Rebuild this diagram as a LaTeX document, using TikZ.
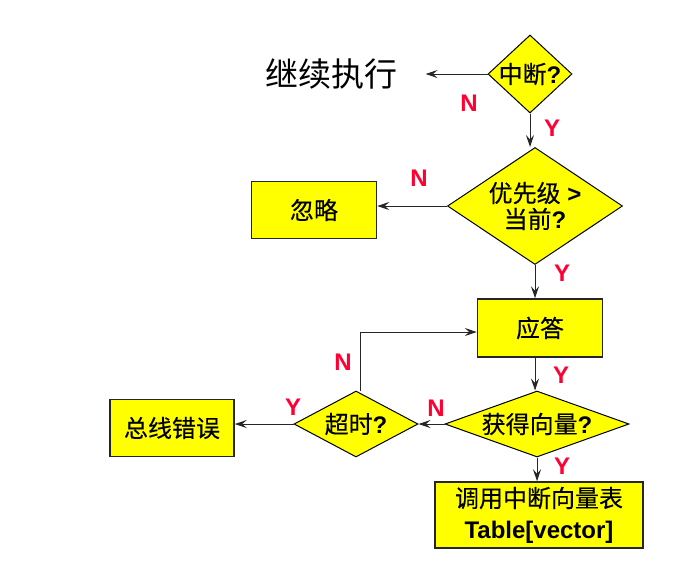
\documentclass[tikz,border=0pt]{standalone}
\usepackage{fontspec}
\setmainfont{Liberation Sans}
\newfontfamily\zh{Noto Sans CJK SC}[FakeBold=0.3]
\newfontfamily\zhlight{Noto Sans CJK SC}
\usetikzlibrary{shapes.geometric}
\usetikzlibrary{arrows.meta}
\definecolor{boxyellow}{RGB}{255,255,0}
\definecolor{answerred}{RGB}{255,0,51}

\begin{document}
\begin{tikzpicture}[x=1pt, y=1pt, node distance=100pt, auto, >={Stealth[length=12pt, width=8pt, inset=4.5pt]}]
    \tikzstyle{process} = [rectangle, minimum width=125pt, minimum height=57pt, text centered, draw=black!85, line width=1.5pt, fill=boxyellow, font=\fontsize{24}{24}\selectfont]
    \tikzstyle{decision} = [diamond, inner sep=0pt, text centered, draw=black, line width=1pt, fill=boxyellow, font=\fontsize{24}{24}\selectfont]
    \tikzstyle{answer} = [inner sep=0pt, text=answerred, font=\bfseries\fontsize{24}{24}\selectfont]
    \tikzstyle{flow} = [->, draw=black!85, line width=1pt]

    \useasboundingbox (0,0) rectangle (690,-568);

    % Decisions and steps
    \node [decision, minimum width=84pt, minimum height=78pt, aspect=1.08, inner sep=-2pt] (zd) at (530,-74) {{\zh 中断}\textbf{?}};
    \node [left of=zd, node distance=199pt, font=\zhlight\fontsize{33}{33}\selectfont] (jx) {继续执行};
    \node [decision, below of=zd, node distance=132pt, xshift=5pt, minimum width=175pt, minimum height=117pt, aspect=1.5, align=center] (yx) {{\zh 优先级} \textbf{>}\\[2pt]{\zh 当前}\textbf{?}};
    \node [process, left of=yx, node distance=221pt, yshift=-4pt] (hl) {\zh 忽略};
    \node [process, below of=yx, node distance=122pt, xshift=5pt, minimum height=58pt] (yd) {\zh 应答};
    \node [decision, below of=yd, node distance=96pt, xshift=-3pt, minimum width=184pt, minimum height=66pt, aspect=2.79] (hq) {{\zh 获得向量}\textbf{?}};
    \node [decision, left of=hq, node distance=181pt, minimum width=124pt, minimum height=66pt, aspect=1.88] (cs) {{\zh 超时}\textbf{?}};
    \node [process, left of=cs, node distance=184pt, yshift=-4pt, minimum width=124pt] (zx) {\zh 总线错误};
    \node [process, below of=hq, node distance=91pt, xshift=2pt, minimum width=208pt, minimum height=66pt, align=center, font=\fontsize{24}{31}\selectfont] (tb) {{\zh 调用中断向量表}\\\textbf{Table[vector]}};

    % Y / N marks
    \node [answer, below of=zd, node distance=29pt, xshift=-61pt] {N};
    \node [answer, below of=zd, node distance=54pt, xshift=22pt] {Y};
    \node [answer, above of=yx, node distance=28pt, xshift=-116pt] {N};
    \node [answer, below of=yx, node distance=67pt, xshift=27pt] {Y};
    \node [answer, below of=yd, node distance=47pt, xshift=21pt] {Y};
    \node [answer, above of=hq, node distance=16pt, xshift=-101pt] {N};
    \node [answer, below of=hq, node distance=42pt, xshift=25pt] {Y};
    \node [answer, above of=cs, node distance=62pt, xshift=-13pt] {N};
    \node [answer, above of=cs, node distance=17pt, xshift=-63pt] {Y};

    % Arrows
    \draw [flow] (zd.west) -- ([xshift=25pt]jx.east);
    \draw [flow] (zd.south) -- (zd.south |- yx.north);
    \draw [flow] (yx.west) -- (yx.west -| hl.east);
    \draw [flow] (yx.south) -- (yx.south |- yd.north);
    \draw [flow] (yx.south |- yd.south) -- (yx.south |- hq.north);
    \draw [flow] (hq.west) -- (cs.east);
    \draw [flow] (cs.west) -- (cs.west -| zx.east);
    \draw [flow] ([xshift=4pt]cs.north) |- ([yshift=-4pt]yd.west);
    \draw [flow] (hq.south) -- (hq.south |- tb.north);
\end{tikzpicture}
\end{document}
